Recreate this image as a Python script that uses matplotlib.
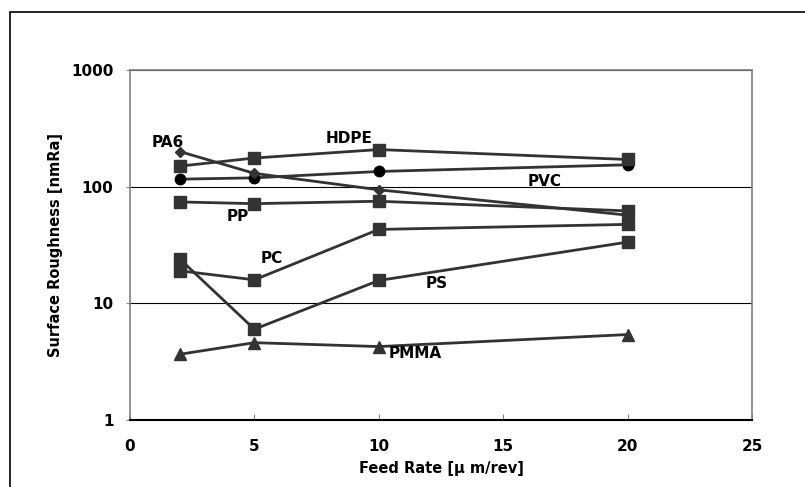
import matplotlib
matplotlib.use('Agg')
import matplotlib.pyplot as plt
from matplotlib.patches import Rectangle
from matplotlib.ticker import FixedLocator, NullLocator

plt.rcParams['font.family'] = ['DejaVu Sans', 'Noto Sans CJK JP']
plt.rcParams['font.weight'] = 'bold'

# feed rate [um/rev]
FEED = [2, 5, 10, 20]

# surface roughness [nmRa] per material
PA6 = [200, 130, 94, 57]
HDPE = [150, 176, 208, 171]
PVC = [116, 119, 135, 154]
PP = [74, 71.5, 75, 62]
PC = [19, 15.9, 43, 47.5]
PS = [24, 6.0, 15.7, 33.5]
PMMA = [3.66, 4.6, 4.26, 5.4]

# drawing order: PVC under HDPE, as in the original
SERIES = [
    ('PVC', PVC, 'o', 7.5),
    ('PA6', PA6, 'D', 5.5),
    ('HDPE', HDPE, 's', 8),
    ('PP', PP, 's', 8),
    ('PC', PC, 's', 8),
    ('PS', PS, 's', 8),
    ('PMMA', PMMA, '^', 8),
]

# where the material names sit (data coords)
LABEL_POS = {
    'PA6': (1.5, 239),
    'HDPE': (8.81, 258),
    'PVC': (16.68, 110),
    'PP': (4.35, 55),
    'PC': (5.69, 24.1),
    'PS': (12.34, 14.7),
    'PMMA': (11.46, 3.69),
}

fig = plt.figure(figsize=(8.05, 4.87), dpi=100)
ax = fig.add_axes([130 / 805, 67 / 487, (752 - 130) / 805, (420 - 70) / 487])

# outer frame of the chart area (right and bottom edges run off the image)
fig.patches.append(Rectangle((10 / 805, -0.1), 1.2, (487 - 12) / 487 + 0.1,
                             transform=fig.transFigure, fill=False,
                             edgecolor='black', linewidth=1.2))

for name, vals, mk, ms in SERIES:
    col = 'black' if mk == 'o' else '#333333'
    ax.plot(FEED, vals, color='#333333', linewidth=2, marker=mk,
            markersize=ms, markerfacecolor=col, markeredgecolor=col, zorder=3)
    tx, ty = LABEL_POS[name]
    ax.text(tx, ty, name, ha='center', va='center', fontsize=11,
            fontweight='bold', zorder=4)

ax.set_yscale('log')
ax.set_xlim(0, 25)
ax.set_ylim(1, 1000)
ax.yaxis.set_major_locator(FixedLocator([1, 10, 100, 1000]))
ax.yaxis.set_minor_locator(NullLocator())
ax.set_yticklabels(['1', '10', '100', '1000'])
ax.set_xticks([0, 5, 10, 15, 20, 25])

ax.grid(axis='y', color='black', linewidth=0.8)
for s in ['top', 'right', 'left']:
    ax.spines[s].set_color('#808080')
    ax.spines[s].set_linewidth(1.2)
ax.spines['bottom'].set_color('black')
ax.spines['bottom'].set_linewidth(1.5)

ax.tick_params(axis='x', direction='in', length=4, pad=14, labelsize=11,
               color='#808080')
ax.tick_params(axis='y', direction='out', length=3, pad=9, labelsize=11,
               color='#808080')
for t in ax.get_xticklabels() + ax.get_yticklabels():
    t.set_fontweight('bold')

ax.set_xlabel('Feed Rate [\u03bc m/rev]', fontsize=10.5, fontweight='bold',
              labelpad=5)
ax.set_ylabel('Surface Roughness [nmRa]', fontsize=10.5, fontweight='bold',
              labelpad=6)

fig.savefig('out.png', dpi=100)
